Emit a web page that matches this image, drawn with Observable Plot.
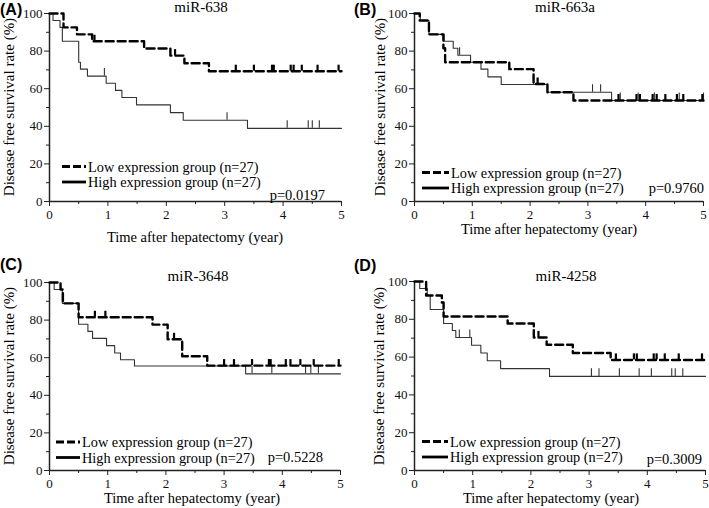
<!DOCTYPE html>
<html><head><meta charset="utf-8">
<script src="https://cdn.jsdelivr.net/npm/d3@7"></script>
<script src="https://cdn.jsdelivr.net/npm/@observablehq/plot@0.6"></script>
<style>
html,body{margin:0;padding:0;background:#fff;}
#root{position:relative;width:709px;height:508px;overflow:hidden;background:#fff;}
#root svg{position:absolute;}
</style></head><body><div id="root"></div>
<script>
// ---------- text ----------
const panelLabels = ["(A)", "(B)", "(C)", "(D)"];
const titles = ["miR-638", "miR-663a", "miR-3648", "miR-4258"];
const pValues = ["p=0.0197", "p=0.9760", "p=0.5228", "p=0.3009"];
const legendLabels = ["Low expression group (n=27)", "High expression group (n=27)"];
const xLabel = "Time after hepatectomy (year)";
const yLabel = "Disease free survival rate (%)";
const xTicks = [0, 1, 2, 3, 4, 5];
const xMinorTicks = [0.5, 1.5, 2.5, 3.5, 4.5];
const yTicks = [0, 20, 40, 60, 80, 100];
const yMinorTicks = [10, 30, 50, 70, 90];
const followUpEnd = 5;

// ---------- (A) miR-638 ----------
const lowA_t = [0, 0.24, 0.47, 0.73, 1.62, 2.07, 2.31, 2.73];
const lowA_s = [100, 92.6, 88.9, 85.2, 81.4, 77.6, 73.5, 69.3];
const lowA_cens = [0.77, 2.15, 3.19, 3.5, 3.81, 3.84, 4.13, 4.18, 4.32, 4.59, 4.95];
const highA_t = [0, 0.06, 0.18, 0.22, 0.5, 0.53, 0.65, 0.97, 1.13, 1.24, 1.49, 2.07, 2.29, 3.39];
const highA_s = [100, 96.3, 92.6, 85.2, 74.1, 70.4, 66.7, 62.9, 59.1, 55.3, 51.4, 47.3, 43.2, 38.9];
const highA_cens = [0.94, 3.04, 4.07, 4.43, 4.5, 4.62];

// ---------- (B) miR-663a ----------
const lowB_t = [0, 0.09, 0.25, 0.5, 0.53, 1.64, 2.06, 2.3, 2.75];
const lowB_s = [100, 96.3, 88.9, 81.5, 74.1, 70.4, 62.5, 58.1, 53.7];
const lowB_cens = [2.13, 3.53, 3.84, 3.9, 4.12, 4.19, 4.34, 4.54, 4.65, 4.98];
const highB_t = [0, 0.1, 0.25, 0.51, 0.67, 0.75, 0.97, 1.15, 1.27, 1.5, 2.3, 3.41];
const highB_s = [100, 96.3, 88.9, 85.2, 81.5, 77.8, 74.1, 70.4, 66.3, 62.2, 58.1, 53.7];
const highB_cens = [0.78, 3.08, 3.22, 3.56, 3.87, 4.15, 4.58, 5.0];

// ---------- (C) miR-3648 ----------
const lowC_t = [0, 0.19, 0.23, 0.5, 1.77, 2.03, 2.28, 2.71];
const lowC_s = [100, 96.3, 88.9, 81.5, 77.6, 69.8, 60.8, 55.8];
const lowC_cens = [0.78, 0.96, 2.14, 3.0, 3.17, 3.48, 3.77, 3.8, 4.06, 4.14, 4.31, 4.54, 4.97];
const highC_t = [0, 0.08, 0.22, 0.5, 0.66, 0.74, 0.98, 1.12, 1.22, 1.46, 3.37];
const highC_s = [100, 96.3, 88.9, 77.8, 74.0, 70.3, 66.4, 62.5, 58.9, 55.6, 51.4];
const highC_cens = [3.48, 3.82, 4.4, 4.49, 4.62];

// ---------- (D) miR-4258 ----------
const lowD_t = [0, 0.2, 0.47, 0.5, 1.6, 2.05, 2.27, 2.72, 3.37];
const lowD_s = [100, 92.6, 88.9, 81.5, 77.8, 70.4, 66.5, 62.2, 58.5];
const lowD_cens = [2.13, 3.46, 3.77, 3.82, 4.11, 4.16, 4.3, 4.54, 4.94];
const highD_t = [0, 0.09, 0.22, 0.27, 0.5, 0.65, 0.71, 0.98, 1.14, 1.25, 1.48, 2.32];
const highD_s = [100, 96.3, 92.6, 85.2, 77.8, 74.1, 70.4, 66.3, 62.2, 58.1, 53.9, 49.8];
const highD_cens = [0.77, 0.95, 3.04, 3.17, 3.52, 3.86, 4.07, 4.42, 4.48, 4.61];

// ---------- helpers ----------
function curve(t, s) {
  const d = t.map((x, i) => ({t: x, s: s[i]}));
  d.push({t: followUpEnd, s: s[s.length - 1]});
  return d;
}
function censor(t, s, c) {
  return c.map(x => ({t: x, s: s[Math.max(0, d3.bisectRight(t, x) - 1)]}));
}

const series = [
  {low: [lowA_t, lowA_s, lowA_cens], high: [highA_t, highA_s, highA_cens]},
  {low: [lowB_t, lowB_s, lowB_cens], high: [highB_t, highB_s, highB_cens]},
  {low: [lowC_t, lowC_s, lowC_cens], high: [highC_t, highC_s, highC_cens]},
  {low: [lowD_t, lowD_s, lowD_cens], high: [highD_t, highD_s, highD_cens]}
];

// panel geometry (page layout)
const layout = [
  {left: 0,   top: 0,   width: 354, mt: 13, mb: 53, ml: 49, mr: 13},
  {left: 354, top: 0,   width: 355, mt: 13, mb: 53, ml: 60, mr: 6},
  {left: 0,   top: 254, width: 354, mt: 28, mb: 38, ml: 49, mr: 14},
  {left: 354, top: 254, width: 355, mt: 27, mb: 38, ml: 60, mr: 4}
];
// annotation placement (page coordinates)
const annot = [
  {lab: [0, 15], title: [201, 12], yl: [9, 107], xl: [195, 242], leg: [62, 86, 166.5, 182], p: [325, 195]},
  {lab: [354, 15], title: [565, 12], yl: [380, 107], xl: [549, 234], leg: [422, 449, 172.5, 188], p: [704, 188]},
  {lab: [0, 270], title: [198, 281], yl: [9, 376], xl: [192, 503], leg: [56, 80, 442, 457.5], p: [323, 457]},
  {lab: [354, 271], title: [566, 281], yl: [379, 376], xl: [551, 503], leg: [422, 448, 441.5, 457], p: [702, 459]}
];

const root = document.getElementById("root");
const serif = "'Liberation Serif', 'Times New Roman', serif";
const intFmt = d => String(d);

series.forEach((ser, k) => {
  const L = layout[k];
  const low = curve(ser.low[0], ser.low[1]);
  const high = curve(ser.high[0], ser.high[1]);
  const lowC = censor(ser.low[0], ser.low[1], ser.low[2]);
  const highC = censor(ser.high[0], ser.high[1], ser.high[2]);
  const svg = Plot.plot({
    width: L.width, height: 254,
    marginTop: L.mt, marginBottom: L.mb, marginLeft: L.ml, marginRight: L.mr,
    style: {fontFamily: serif, fontSize: "13px", color: "#111", background: "transparent", overflow: "visible"},
    x: {domain: [0, 5]},
    y: {domain: [0, 100]},
    marks: [
      Plot.axisY({ticks: yTicks, tickSize: 5, tickPadding: 2, tickFormat: intFmt, label: null, stroke: "#222"}),
      Plot.axisY({ticks: yMinorTicks, tickSize: 3, tickFormat: () => "", label: null, stroke: "#222"}),
      Plot.axisX({ticks: xTicks, tickSize: 5, tickPadding: 3, tickFormat: intFmt, label: null, stroke: "#222"}),
      Plot.axisX({ticks: xMinorTicks, tickSize: 3, tickFormat: () => "", label: null, stroke: "#222"}),
      Plot.ruleX([0], {stroke: "#222", strokeWidth: 1.5}),
      Plot.ruleY([0], {stroke: "#222", strokeWidth: 1.5}),
      Plot.line(high, {x: "t", y: "s", curve: "step-after", stroke: "#333", strokeWidth: 1.1}),
      Plot.ruleX(highC, {x: "t", y1: "s", y2: d => d.s + 4, stroke: "#333", strokeWidth: 1.1}),
      Plot.line(low, {x: "t", y: "s", curve: "step-after", stroke: "#000", strokeWidth: 2.4, strokeDasharray: "8,4"}),
      Plot.ruleX(lowC, {x: "t", y1: "s", y2: d => d.s + 3.2, stroke: "#000", strokeWidth: 2.2})
    ]
  });
  svg.style.left = L.left + "px";
  svg.style.top = L.top + "px";
  root.appendChild(svg);
});

// annotation overlay
const ov = d3.select(root).append("svg")
  .attr("width", 709).attr("height", 508)
  .style("left", "0px").style("top", "0px").style("pointer-events", "none");

annot.forEach((a, k) => {
  ov.append("text").attr("x", a.lab[0]).attr("y", a.lab[1])
    .attr("font-family", "'Liberation Sans', Arial, sans-serif").attr("font-weight", "bold")
    .attr("font-size", 16).text(panelLabels[k]);
  ov.append("text").attr("x", a.title[0]).attr("y", a.title[1]).attr("text-anchor", "middle")
    .attr("font-family", serif).attr("font-size", 15).text(titles[k]);
  ov.append("text").attr("transform", `translate(${a.yl[0]},${a.yl[1]}) rotate(-90)`)
    .attr("text-anchor", "middle").attr("dominant-baseline", "central")
    .attr("font-family", serif).attr("font-size", 15).text(yLabel);
  ov.append("text").attr("x", a.xl[0]).attr("y", a.xl[1]).attr("text-anchor", "middle")
    .attr("font-family", serif).attr("font-size", 14.5).text(xLabel);
  const [x1, x2, r1, r2] = a.leg;
  ov.append("line").attr("x1", x1).attr("x2", x2).attr("y1", r1).attr("y2", r1)
    .attr("stroke", "#000").attr("stroke-width", 2.8).attr("stroke-dasharray", "8,3");
  ov.append("line").attr("x1", x1).attr("x2", x2).attr("y1", r2).attr("y2", r2)
    .attr("stroke", "#000").attr("stroke-width", 2.8);
  [r1, r2].forEach((r, j) => {
    ov.append("text").attr("x", x2 + 2).attr("y", r + 5)
      .attr("font-family", serif).attr("font-size", 14.3).text(legendLabels[j]);
  });
  ov.append("text").attr("x", a.p[0]).attr("y", a.p[1] + 5).attr("text-anchor", "end")
    .attr("font-family", serif).attr("font-size", 14.5).text(pValues[k]);
});
</script></body></html>
